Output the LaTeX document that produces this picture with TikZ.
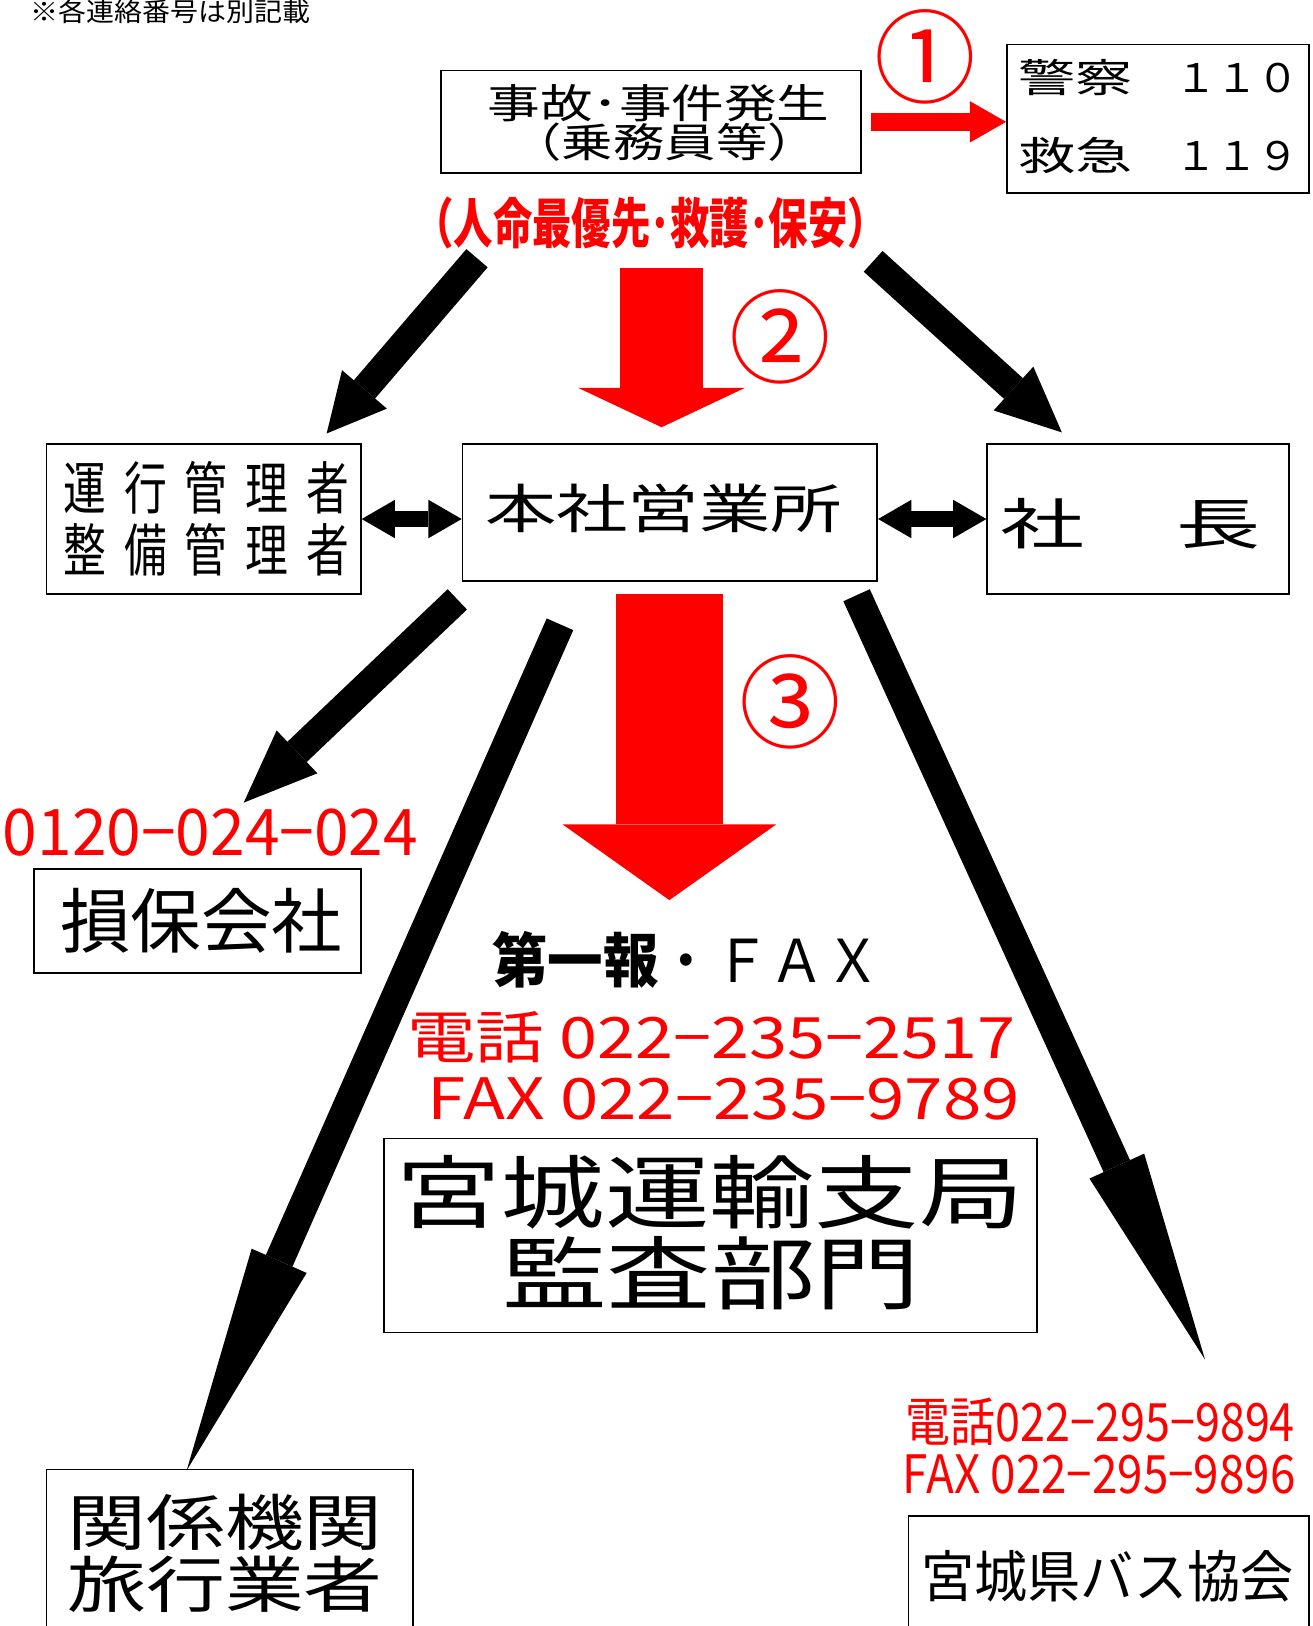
\documentclass[tikz,border=0pt]{standalone}
\usepackage{fontspec}
\setmainfont{Noto Sans CJK JP}
\usetikzlibrary{arrows.meta}
\definecolor{ared}{RGB}{255,0,0}
\newcommand{\hsc}[2]{\scalebox{#1}[1]{#2}}
\newcommand{\fs}[1]{\fontsize{#1}{#1}\selectfont}
\begin{document}
\begin{tikzpicture}[x=1pt,y=-1pt,
  box/.style={draw=black, line width=1.6pt, inner sep=0pt, fill=none},
  t/.style={inner sep=0pt, outer sep=0pt, anchor=center},
  blk/.style={line width=27pt, black, -{Triangle[length=#1, width=57pt, line width=0pt]}},
  lng/.style={line width=28pt, black, -{Triangle[length=#1, width=58pt, line width=0pt]}},
  dbl/.style={line width=16pt, black, {Triangle[length=32pt, width=37pt, line width=0pt]}-{Triangle[length=32pt, width=37pt, line width=0pt]}},
  redtxt/.style={t, text=ared}]
\useasboundingbox (0,0) rectangle (1266,1568);
\clip (0,0) rectangle (1266,1568);

% note
\node[t] (note) at (164,11) {\fs{25}\hsc{1.08}{※各連絡番号は別記載}};

% boxes
\node[box, minimum width=405pt, minimum height=99pt] (jiko) at (627.5,117.5) {};
\node[box, minimum width=291pt, minimum height=143pt] (police) at (1116.5,114.5) {};
\node[box, minimum width=303pt, minimum height=145pt] (kanri) at (196.5,500.5) {};
\node[box, minimum width=400pt, minimum height=132pt] (honsha) at (646,494) {};
\node[box, minimum width=291pt, minimum height=145pt] (shacho) at (1097.5,500.5) {};
\node[box, minimum width=315pt, minimum height=100pt] (sonpo) at (190.5,888) {};
\node[box, minimum width=630pt, minimum height=187pt] (kansa) at (685,1191.5) {};
\node[box, minimum width=386pt, minimum height=160pt] (bus) at (1069,1542) {};
\node[box, minimum width=353pt, minimum height=200pt] (kankei) at (221.5,1517) {};

% texts in boxes
\node[t] (jiko1) at (635,100) {\fs{39}\hsc{1.3}{事故･事件発生}};
\node[t] (jiko2) at (641,137) {\fs{39}\hsc{1.27}{（乗務員等）}};
\node[t, anchor=west] (pol1) at (982,75) {\fs{38}\hsc{1.45}{警察}};
\node[t] (pol1n) at (1193,75) {\fs{38}\hsc{1.05}{１１０}};
\node[t, anchor=west] (pol2) at (982,150) {\fs{38}\hsc{1.45}{救急}};
\node[t] (pol2n) at (1193,150) {\fs{38}\hsc{1.05}{１１９}};
\node[t] (kanri1) at (199,470) {\fs{55}\hsc{0.75}{運\hspace{23pt}行\hspace{23pt}管\hspace{23pt}理\hspace{23pt}者}};
\node[t] (kanri2) at (199,530) {\fs{55}\hsc{0.75}{整\hspace{23pt}備\hspace{23pt}管\hspace{23pt}理\hspace{23pt}者}};
\node[t] (honshat) at (640,490) {\fs{51}\hsc{1.35}{本社営業所}};
\node[t] (shachot) at (1090,505) {\fs{53}\hsc{1.53}{社\hspace{58pt}長}};
\node[t] (sonpot) at (194,888) {\fs{68}{損保会社}};
\node[t] (kansa1) at (684.5,1150) {\fs{77}\hsc{1.31}{宮城運輸支局}};
\node[t] (kansa2) at (686,1228) {\fs{77}\hsc{1.31}{監査部門}};
\node[t] (bust) at (1068,1520) {\fs{54}\hsc{0.95}{宮城県バス協会}};
\node[t] (kankei1) at (217,1468) {\fs{59}\hsc{1.29}{関係機関}};
\node[t] (kankei2) at (217,1528) {\fs{59}\hsc{1.29}{旅行業者}};

% red texts
\node[redtxt] (hoan) at (627.5,215) {\fs{52}\bfseries\hsc{0.73}{（人命最優先･救護･保安）}};
\node[redtxt] (sonpon) at (203,803) {\fs{62}\hsc{0.97}{0120−024−024}};
\node[t] (daiippo) at (662,926) {\fs{57}\hsc{0.94}{{\bfseries 第一報}・ＦＡＸ}};
\node[redtxt] (tel1) at (686,1000) {\fs{55}\hsc{1.2}{電話 022−235−2517}};
\node[redtxt] (fax1) at (698,1060) {\fs{55}\hsc{1.21}{FAX 022−235−9789}};
\node[redtxt] (tel2) at (1061,1371) {\fs{51}\hsc{0.85}{電話022−295−9894}};
\node[redtxt] (fax2) at (1060,1422) {\fs{51}\hsc{0.865}{FAX 022−295−9896}};

% circled numbers
\node[redtxt] (c1) at (892,55) {\fs{98}①};
\node[redtxt] (c2) at (752,325) {\fs{98}②};
\node[redtxt] (c3) at (762,677) {\fs{98}③};

% coordinates for arrows
\coordinate (r1s) at (840,117.5);
\coordinate (r2s) at (638,258);
\coordinate (r2e) at (638,412);
\coordinate (r3s) at (645.5,573);
\coordinate (r3e) at (645.5,868);
\coordinate (tls) at (460,249);
\coordinate (tle) at (315,418);
\coordinate (trs) at (842,252);
\coordinate (tre) at (1024,417);
\coordinate (sps) at (441,578);
\coordinate (spe) at (235,774);
\coordinate (lls) at (540,602);
\coordinate (lle) at (180,1418);
\coordinate (lrs) at (826,574);
\coordinate (lre) at (1162,1311);

% red arrows
\draw[ared, line width=18pt, -{Triangle[length=35pt, width=40pt, line width=0pt]}] (r1s) -- (police.west |- r1s);
\draw[ared, line width=80pt, -{Triangle[length=38pt, width=161pt, line width=0pt]}] (r2s) -- (r2e);
\draw[ared, line width=103pt, -{Triangle[length=73pt, width=206pt, line width=0pt]}] (r3s) -- (r3e);

% black arrows
\draw[blk=56pt] (tls) -- (tle);
\draw[blk=63pt] (trs) -- (tre);
\draw[blk=71pt] (sps) -- (spe);
\draw[lng=221pt] (lls) -- (lle);
\draw[lng=205pt] (lrs) -- (lre);

% double arrows
\draw[dbl] (kanri.east) -- (kanri.east -| honsha.west);
\draw[dbl] (honsha.east |- shacho.west) -- (shacho.west);
\end{tikzpicture}
\end{document}
